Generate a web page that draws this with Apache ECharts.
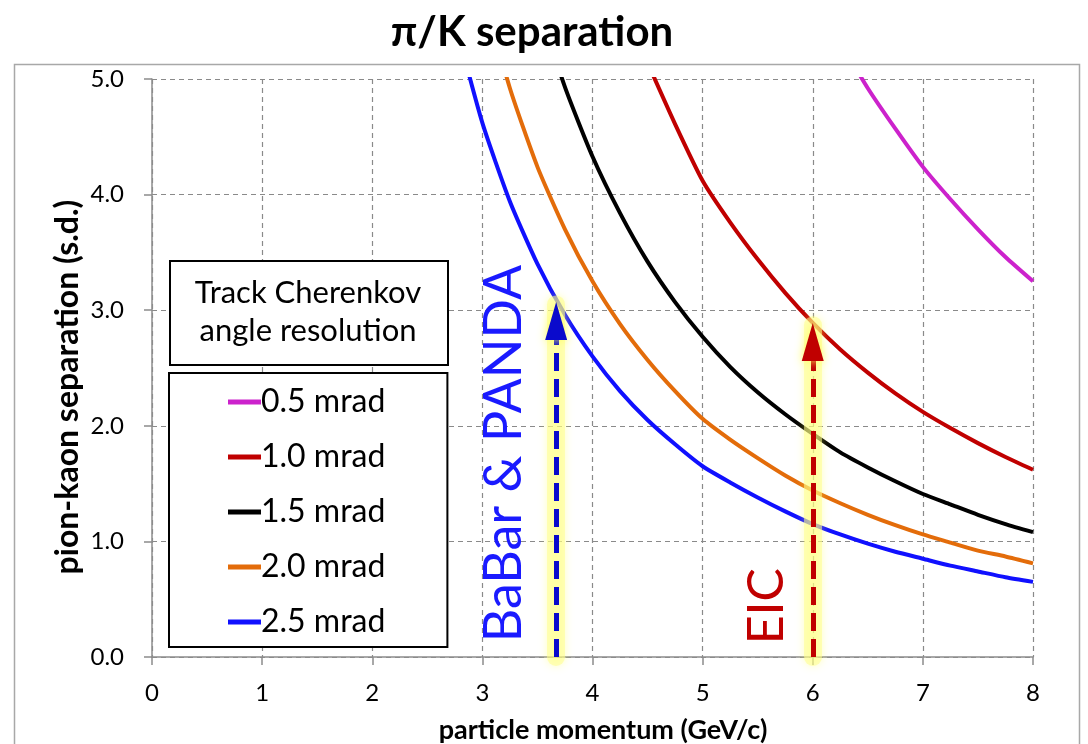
<!DOCTYPE html>
<html>
<head>
<meta charset="utf-8">
<script src="https://cdn.jsdelivr.net/npm/echarts@6/dist/echarts.min.js"></script>
<style>
html,body{margin:0;padding:0;background:#fff;}
#chart{width:1088px;height:744px;}
</style>
</head>
<body>
<div id="chart"></div>
<script>
// particle momentum (GeV/c) sample points
const momentum = [2.75, 3.0, 3.25, 3.5, 3.75, 4.0, 4.25, 4.5, 4.75, 5.0, 5.25, 5.5, 5.75, 6.0, 6.25, 6.5, 6.75, 7.0, 7.25, 7.5, 7.75, 8.0];
// pion-kaon separation (s.d.)
const sep05 = [null, null, null, null, null, null, null, null, null, null, null, null, null, null, 5.32, 4.92, 4.57, 4.24, 3.96, 3.70, 3.46, 3.25];
const sep10 = [null, null, null, null, null, null, null, 5.14, 4.61, 4.12, 3.76, 3.44, 3.15, 2.89, 2.66, 2.46, 2.28, 2.12, 1.98, 1.85, 1.73, 1.62];
const sep15 = [null, null, null, 5.66, 4.93, 4.33, 3.84, 3.42, 3.07, 2.77, 2.51, 2.29, 2.10, 1.93, 1.77, 1.64, 1.52, 1.41, 1.32, 1.23, 1.15, 1.08];
const sep20 = [null, 5.78, 4.92, 4.24, 3.70, 3.25, 2.88, 2.57, 2.30, 2.06, 1.88, 1.72, 1.57, 1.44, 1.33, 1.23, 1.14, 1.06, 0.99, 0.92, 0.87, 0.81];
const sep25 = [5.50, 4.62, 3.94, 3.40, 2.96, 2.60, 2.30, 2.05, 1.84, 1.65, 1.51, 1.38, 1.26, 1.15, 1.06, 0.98, 0.91, 0.85, 0.79, 0.74, 0.69, 0.65];
const seriesNames = ['0.5 mrad', '1.0 mrad', '1.5 mrad', '2.0 mrad', '2.5 mrad'];
const seriesValues = [sep05, sep10, sep15, sep20, sep25];
const seriesColors = ['#cc22cc', '#c00000', '#000000', '#e36c0a', '#1010ff'];
const xTicks = ['0', '1', '2', '3', '4', '5', '6', '7', '8'];
const yTicks = ['0.0', '1.0', '2.0', '3.0', '4.0', '5.0'];
// annotation arrows: [momentum, separation reached]
const babarArrow = [3.67, 3.07];
const eicArrow = [6.0, 2.89];

const FONT = 'Lato, "Liberation Sans", sans-serif';
const chart = echarts.init(document.getElementById('chart'), null, {renderer: 'canvas'});

function pairs(vals) {
  const out = [];
  for (let i = 0; i < momentum.length; i++) {
    if (vals[i] !== null) out.push([momentum[i], vals[i]]);
  }
  return out;
}

const curveSeries = seriesNames.map((n, i) => ({
  name: n,
  type: 'line',
  data: pairs(seriesValues[i]),
  showSymbol: false,
  smooth: 0.2,
  clip: true,
  lineStyle: {color: seriesColors[i], width: 4},
  itemStyle: {color: seriesColors[i]},
  z: 3
}));

function arrowSeries(pt, color) {
  return {
    type: 'line',
    data: [],
    silent: true,
    z: 4,
    markLine: {
      silent: true,
      animation: false,
      label: {show: false},
      data: [
        [{coord: [pt[0], 0], symbol: 'none', lineStyle: {color: 'rgba(255,255,140,0.55)', width: 18, type: 'solid', shadowColor: 'rgba(255,255,90,0.7)', shadowBlur: 8, cap: 'round'}},
         {coord: [pt[0], pt[1] - 0.02], symbol: 'none'}],
        [{coord: [pt[0], 0], symbol: 'none', lineStyle: {color: color, width: 5, type: [18, 8]}},
         {coord: [pt[0], pt[1] - 0.2], symbol: 'none'}]
      ]
    },
    markPoint: {
      silent: true,
      animation: false,
      label: {show: false},
      data: [
        {coord: [pt[0], pt[1]], symbol: 'triangle', symbolSize: [22, 38], symbolOffset: [0, 19],
         itemStyle: {color: color, shadowColor: 'rgba(255,255,90,0.9)', shadowBlur: 10}}
      ]
    }
  };
}

const annoText = {
  type: 'line',
  data: [],
  silent: true,
  z: 5,
  markPoint: {
    silent: true,
    animation: false,
    symbol: 'circle',
    symbolSize: 0,
    data: [
      {coord: [3.2, 1.76], label: {show: true, formatter: 'BaBar & PANDA', rotate: 90, color: '#1a1aff', fontSize: 52, fontFamily: FONT, position: 'inside'}},
      {coord: [5.58, 0.44], label: {show: true, formatter: 'EIC', rotate: 90, color: '#c00000', fontSize: 50, fontFamily: FONT, position: 'inside'}}
    ]
  }
};

const option = {
  animation: false,
  backgroundColor: '#ffffff',
  title: {
    text: 'π/K separation',
    left: 527, top: 6, textAlign: 'center',
    textStyle: {fontSize: 42, fontWeight: 'bold', fontFamily: FONT, color: '#000'}
  },
  grid: {left: 152, right: 55, top: 79, bottom: 87, containLabel: false},
  xAxis: {
    type: 'value', min: 0, max: 8, interval: 1,
    axisLine: {show: true, lineStyle: {color: '#8c8c8c', width: 1.5}},
    axisTick: {show: true, length: 8, lineStyle: {color: '#8c8c8c', width: 1.5}},
    axisLabel: {fontSize: 24, fontFamily: FONT, color: '#000', margin: 24, formatter: v => xTicks[Math.round(v)]},
    splitLine: {show: true, lineStyle: {color: '#8a8a8a', width: 1.2, type: [5, 4]}}
  },
  yAxis: {
    type: 'value', min: 0, max: 5, interval: 1,
    axisLine: {show: true, lineStyle: {color: '#8c8c8c', width: 1.5}},
    axisTick: {show: true, length: 8, lineStyle: {color: '#8c8c8c', width: 1.5}},
    axisLabel: {fontSize: 24, fontFamily: FONT, color: '#000', margin: 28, formatter: v => yTicks[Math.round(v)]},
    splitLine: {show: true, lineStyle: {color: '#8a8a8a', width: 1.2, type: [5, 4]}}
  },
  legend: {
    data: seriesNames,
    orient: 'vertical',
    left: 169, top: 373,
    padding: [13, 62, 9, 59],
    itemGap: 23,
    itemWidth: 33, itemHeight: 5,
    icon: 'rect',
    itemStyle: {borderWidth: 0},
    textStyle: {fontSize: 32, fontFamily: FONT, color: '#000', padding: [0, 0, 0, -5]},
    borderColor: '#000', borderWidth: 2, backgroundColor: '#fff',
    selectedMode: false
  },
  graphic: [
    {type: 'rect', left: 12, top: 62, z: 0, silent: true,
     shape: {width: 1065, height: 700}, style: {fill: 'none', stroke: '#a8a8a8', lineWidth: 1.5}},
    {type: 'rect', left: 169, top: 260, z: 10, silent: true,
     shape: {width: 278, height: 104}, style: {fill: '#fff', stroke: '#000', lineWidth: 2}},
    {type: 'text', z: 11, silent: true, x: 308, y: 312,
     style: {text: 'Track Cherenkov\nangle resolution', font: '31px ' + FONT, fill: '#000', align: 'center', verticalAlign: 'middle', lineHeight: 38}},
    {type: 'text', z: 11, silent: true, x: 68, y: 387, rotation: Math.PI / 2,
     style: {text: 'pion-kaon separation (s.d.)', font: 'bold 32px ' + FONT, fill: '#000', align: 'center', verticalAlign: 'middle'}},
    {type: 'text', z: 11, silent: true, x: 603, y: 730,
     style: {text: 'particle momentum (GeV/c)', font: 'bold 27px ' + FONT, fill: '#000', align: 'center', verticalAlign: 'middle'}}
  ],
  series: curveSeries.concat([arrowSeries(babarArrow, '#0a0acc'), arrowSeries(eicArrow, '#c00000'), annoText])
};
chart.setOption(option);
</script>
</body>
</html>
